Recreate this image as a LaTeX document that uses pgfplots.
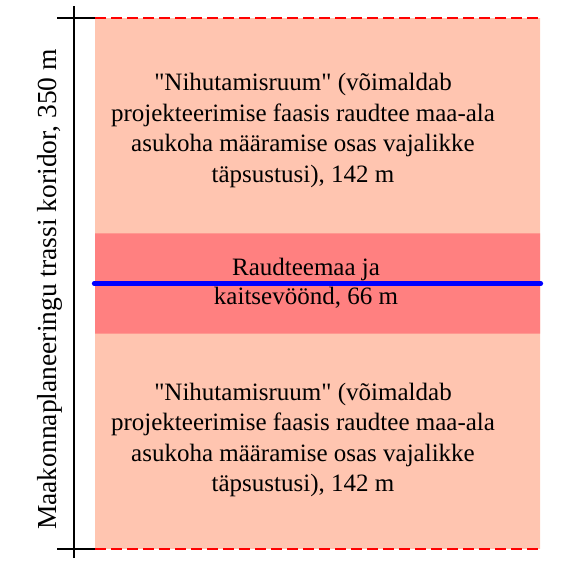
\documentclass[border=0pt]{standalone}
\usepackage{pgfplots}
\pgfplotsset{compat=1.18}
\usepackage{fontspec}
\setmainfont{Liberation Serif}[Ligatures=TeXOff]
\definecolor{lightsalmon}{RGB}{255,197,176}
\definecolor{band}{RGB}{255,128,128}
\begin{document}
\begin{tikzpicture}
\begin{axis}[
  scale only axis, width=586pt, height=567pt,
  xmin=0, xmax=586, ymin=-11.87, ymax=361.88,
  hide axis, clip=false,
]
\path (axis cs:0,-11.87) rectangle (axis cs:586,361.88);
% corridor background
\addplot[fill=lightsalmon, draw=none] coordinates {(95,0) (540,0) (540,350) (95,350) (95,0)};
% railway land band
\addplot[fill=band, draw=none] coordinates {(95,142) (540,142) (540,208) (95,208) (95,142)};
% dashed borders
\addplot[red, line width=2pt, dash pattern=on 11pt off 5pt] coordinates {(95,350) (540,350)};
\addplot[red, line width=2pt, dash pattern=on 11pt off 5pt] coordinates {(95,0) (540,0)};
% centre line
\addplot[blue, line width=4.2pt, line cap=round] coordinates {(94,175) (541,175)};
% dimension line
\addplot[black, line width=1.8pt] coordinates {(74,-6) (74,358)};
\addplot[black, line width=1.8pt] coordinates {(57,350) (95,350)};
\addplot[black, line width=1.8pt] coordinates {(57,0) (95,0)};
% texts
\node[align=center, font=\fontsize{25}{30.5}\selectfont] at (axis cs:303,276)
  {"Nihutamisruum" (võimaldab\\projekteerimise faasis raudtee maa-ala\\asukoha määramise osas vajalikke\\täpsustusi), 142 m};
\node[align=center, font=\fontsize{25}{29}\selectfont] at (axis cs:306,175)
  {Raudteemaa ja\\kaitsevöönd, 66 m};
\node[align=center, font=\fontsize{25}{30.5}\selectfont] at (axis cs:303,72)
  {"Nihutamisruum" (võimaldab\\projekteerimise faasis raudtee maa-ala\\asukoha määramise osas vajalikke\\täpsustusi), 142 m};
\node[rotate=90, font=\fontsize{27.5}{30}\selectfont] at (axis cs:50,171)
  {Maakonnaplaneeringu trassi koridor, 350 m};
\end{axis}
\end{tikzpicture}
\end{document}
